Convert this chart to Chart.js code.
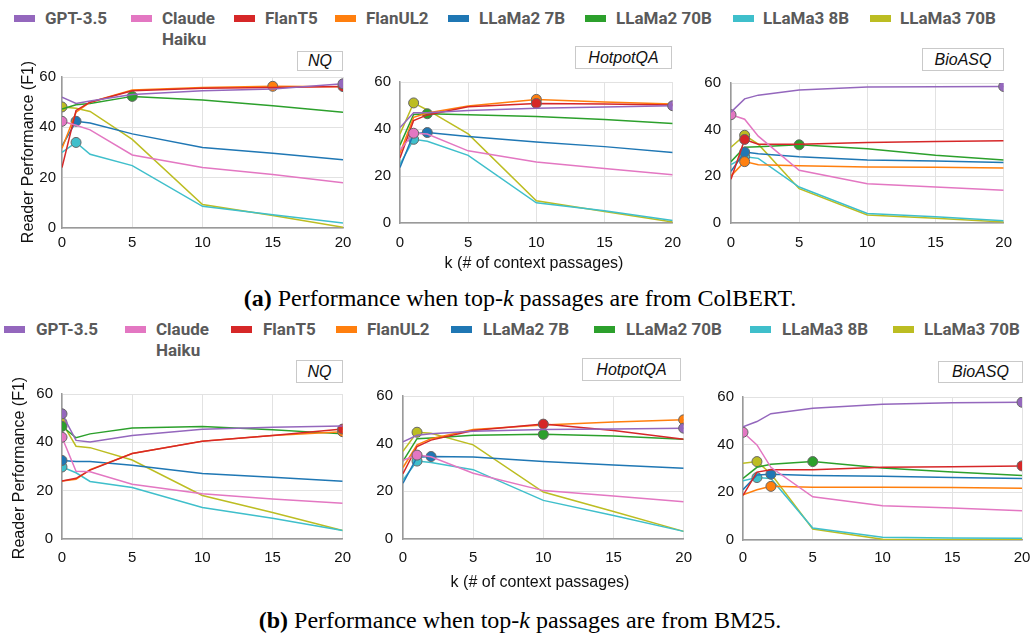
<!DOCTYPE html>
<html>
<head>
<meta charset="utf-8">
<script src="https://cdn.jsdelivr.net/npm/chart.js@4.4.1/dist/chart.umd.min.js"></script>
<style>
  body { margin: 0; background: #fff; }
  #wrap { position: relative; width: 1033px; height: 633px; overflow: hidden; background: #fff; }
  #wrap canvas { position: absolute; }
  .sw { position: absolute; width: 21px; height: 7px; }
  .lt { position: absolute; font-family: Roboto, 'Liberation Sans', sans-serif; font-weight: 700;
        font-size: 17px; line-height: 21px; color: #5a5a5a; white-space: nowrap; }
  .box { position: absolute; border: 1.5px solid #c9c9c9; background: #fff; box-sizing: border-box;
         font-family: 'Liberation Sans', Arial, sans-serif; font-style: italic; font-size: 16px;
         color: #111; display: flex; align-items: center; justify-content: center; }
  .ytitle { position: absolute; font-family: 'Liberation Sans', Arial, sans-serif; font-size: 16px; color: #111;
            white-space: nowrap; transform: translate(-50%, -50%) rotate(-90deg); }
  .xtitle { position: absolute; font-family: 'Liberation Sans', Arial, sans-serif; font-size: 16px; color: #111;
            white-space: nowrap; transform: translate(-50%, -50%); }
  .cap { position: absolute; font-family: 'Liberation Serif', 'Times New Roman', serif; font-size: 24px; color: #000;
         white-space: nowrap; transform: translate(-50%, -50%); }
  .cap b { font-weight: 700; }
  .cap i { font-style: italic; }
</style>
</head>
<body>
<div id="wrap"></div>
<script>
// k values on the x axis
const kValues = [0, 1, 2, 5, 10, 15, 20];
const models = ['GPT-3.5', 'Claude\nHaiku', 'FlanT5', 'FlanUL2', 'LLaMa2 7B', 'LLaMa2 70B', 'LLaMa3 8B', 'LLaMa3 70B'];
const colors = ['#9467bd', '#e377c2', '#d62728', '#ff7f0e', '#1f77b4', '#2ca02c', '#3fbfcb', '#bcbd22'];

// (a) ColBERT retrieval, one row per model
const colbertNQ = [
    [52, 49.5, 50.5, 53, 54.5, 55.2, 57.3],
    [42.4, 40.8, 39, 29, 24, 21.3, 18],
    [24, 46.7, 50, 54.5, 55.5, 55.8, 56.2],
    [31.7, 46, 50, 54.8, 55.8, 56.3, 56.1],
    [32.6, 42.4, 41.7, 37.4, 32, 29.7, 27.1],
    [47.3, 49, 49.5, 52.3, 50.9, 48.6, 46],
    [30, 34, 29.3, 24.8, 8.6, 5.3, 2],
    [48.1, 47.6, 46.3, 35.2, 9.3, 5, 0.3]
];
const colbertHotpot = [
    [40.6, 46.9, 46.9, 47.9, 48.8, 49.4, 49.9],
    [31, 38.2, 37.9, 30.7, 26, 23.2, 20.5],
    [27.7, 43.6, 46, 49.5, 50.9, 50.6, 50.2],
    [29.7, 45, 46.8, 49.8, 52.6, 51.5, 50.6],
    [23.6, 38.0, 38.5, 36.8, 34.5, 32.5, 30],
    [33.1, 46.2, 46.5, 46.1, 45.3, 44, 42.3],
    [25, 35.6, 34.8, 28.8, 8.6, 5.2, 1.1],
    [37.9, 51.1, 48.1, 37.9, 9.5, 4.9, 0.4]
];
const colbertBio = [
    [47.5, 53.2, 54.8, 57, 58.3, 58.4, 58.5],
    [46.4, 44.5, 37.2, 22.6, 16.8, 15.4, 14],
    [18.8, 35.8, 33.8, 33.8, 34.5, 34.9, 35.3],
    [20.2, 26.3, 25, 24.5, 24, 23.9, 23.6],
    [22.2, 30.4, 29.7, 28.4, 27, 26.6, 25.9],
    [26.3, 32.5, 32.7, 33.5, 31.8, 29, 27],
    [25, 28.4, 27.7, 15.4, 4.1, 2.7, 1],
    [32.5, 37.6, 33.8, 14.7, 3.4, 2, 0.4]
];

// (b) BM25 retrieval
const bm25NQ = [
    [51.8, 40.8, 40.1, 42.8, 45.4, 46.2, 46.8],
    [42.1, 28, 27.8, 22.7, 18.7, 16.6, 14.8],
    [24, 25.1, 28.5, 35.4, 40.4, 42.8, 45.5],
    [24, 24.7, 28.7, 35.4, 40.5, 42.8, 44.4],
    [32.5, 32.1, 32.1, 30.5, 27.1, 25.6, 23.9],
    [46.6, 41.9, 43.5, 45.9, 46.5, 45.2, 43.5],
    [29.8, 27.4, 23.8, 21.3, 13, 8.6, 3.5],
    [48.2, 38.4, 37.8, 32.7, 18, 11, 3.5]
];
const bm25Hotpot = [
    [40.8, 43.5, 44.2, 45.2, 45.9, 46.2, 46.5],
    [33, 35.2, 34.5, 27.6, 20.3, 18, 15.6],
    [27.4, 38.8, 41.5, 45.5, 48.2, 45.5, 41.9],
    [30, 39.5, 42.1, 45.9, 47.8, 49.1, 50],
    [23.4, 34.3, 34.6, 34.4, 32.5, 31, 29.7],
    [32.7, 42.1, 42.4, 43.5, 43.9, 43.2, 41.9],
    [24.7, 32.7, 32.1, 29.1, 16.2, 9.9, 3.2],
    [36.8, 44.8, 44.4, 39.5, 19.7, 11.5, 3.2]
];
const bm25Bio = [
    [47.5, 49.7, 53, 55.3, 57, 57.6, 57.8],
    [45.2, 39.9, 30.5, 18.1, 14.4, 13.4, 12.3],
    [18.7, 28.5, 29.5, 29.5, 30.5, 30.7, 31.1],
    [19, 21.1, 22.5, 22.1, 22.1, 22, 21.7],
    [21.1, 27.3, 27.6, 27.1, 26.7, 26.2, 25.8],
    [25.8, 30.5, 31.8, 32.9, 30.2, 28.5, 27.1],
    [24.8, 26.2, 25.8, 5, 1.2, 0.8, 0.7],
    [32.2, 32.9, 27.8, 4.6, 0.3, 0.2, 0.2]
];

const wrap = document.getElementById('wrap');

function addEl(cls, html, style) {
    const el = document.createElement('div');
    el.className = cls;
    el.innerHTML = html;
    Object.assign(el.style, style);
    wrap.appendChild(el);
    return el;
}

// legends (one above each row)
function drawLegend(spots, yMid) {
    models.forEach((m, i) => {
        addEl('sw', '', { left: spots[i][0] + 'px', top: (yMid - 3) + 'px', background: colors[i] });
        addEl('lt', m.replace('\n', '<br>'), { left: spots[i][1] + 'px', top: (yMid - 10) + 'px' });
    });
}
drawLegend([[14, 45], [131, 162], [234, 265], [335, 366], [448, 479], [585, 616], [733, 763], [870, 900]], 18);
drawLegend([[4, 36], [125, 156], [231, 263], [336, 367], [451, 483], [594, 626], [750, 782], [893, 924]], 329);

// panel layout: plot area box, y label gap, x label padding, name box
const panels = [
    { rows: colbertNQ, l: 62, r: 343, t: 74, b: 228, gap: 6, xpad: 6, name: 'NQ', box: [297, 51, 46, 20] },
    { rows: colbertHotpot, l: 400, r: 674, t: 76, b: 223, gap: 9, xpad: 11, name: 'HotpotQA', box: [575, 46, 97, 23] },
    { rows: colbertBio, l: 731, r: 1005, t: 76, b: 223, gap: 10, xpad: 11, name: 'BioASQ', box: [922, 48, 82, 23] },
    { rows: bm25NQ, l: 62, r: 343, t: 388, b: 539, gap: 9, xpad: 10, name: 'NQ', box: [296, 360, 47, 23] },
    { rows: bm25Hotpot, l: 403, r: 684, t: 389, b: 539, gap: 10, xpad: 10, name: 'HotpotQA', box: [582, 358, 99, 23] },
    { rows: bm25Bio, l: 743, r: 1022, t: 391, b: 540, gap: 9, xpad: 9, name: 'BioASQ', box: [938, 361, 85, 22] }
];

const Y_W = 44, X_H = 34, PAD_T = 12, PAD_R = 18;
const tickFont = { family: "'Liberation Sans', Arial, sans-serif", size: 15 };

panels.forEach(p => {
    const canvas = document.createElement('canvas');
    const w = Y_W + (p.r - p.l) + PAD_R;
    const h = PAD_T + (p.b - p.t) + X_H;
    canvas.width = w;
    canvas.height = h;
    canvas.style.left = (p.l - Y_W) + 'px';
    canvas.style.top = (p.t - PAD_T) + 'px';
    canvas.style.width = w + 'px';
    canvas.style.height = h + 'px';
    wrap.appendChild(canvas);

    const datasets = p.rows.map((vals, i) => {
        // marker only on each model's best k
        const best = vals.indexOf(Math.max(...vals));
        return {
            label: models[i],
            data: kValues.map((k, j) => ({ x: k, y: vals[j] })),
            borderColor: colors[i],
            backgroundColor: colors[i],
            borderWidth: 1.5,
            tension: 0,
            pointRadius: vals.map((v, j) => j === best ? 5 : 0),
            pointBackgroundColor: colors[i],
            pointBorderColor: '#666',
            pointBorderWidth: 1
        };
    });

    new Chart(canvas.getContext('2d'), {
        type: 'line',
        data: { datasets },
        options: {
            responsive: false,
            animation: false,
            devicePixelRatio: 1,
            layout: { padding: { top: PAD_T, right: PAD_R, left: 0, bottom: 0 } },
            plugins: { legend: { display: false }, tooltip: { enabled: false } },
            scales: {
                x: {
                    type: 'linear', min: 0, max: 20,
                    ticks: { stepSize: 5, color: '#111', font: tickFont, padding: p.xpad, maxRotation: 0 },
                    grid: { color: '#e2e2e2', drawTicks: false },
                    border: { color: '#9a9a9a', width: 1.5 },
                    afterFit: s => { s.height = X_H; }
                },
                y: {
                    min: 0, max: 60,
                    ticks: { stepSize: 20, color: '#111', font: tickFont, padding: p.gap },
                    grid: { color: '#e2e2e2', drawTicks: false },
                    border: { color: '#9a9a9a', width: 1.5 },
                    afterFit: s => { s.width = Y_W; }
                }
            }
        }
    });

    addEl('box', p.name, { left: p.box[0] + 'px', top: p.box[1] + 'px', width: p.box[2] + 'px', height: p.box[3] + 'px' });
});

// axis titles and captions
addEl('ytitle', 'Reader Performance (F1)', { left: '28px', top: '152px' });
addEl('ytitle', 'Reader Performance (F1)', { left: '19px', top: '468px' });
addEl('xtitle', 'k (# of context passages)', { left: '534px', top: '263px' });
addEl('xtitle', 'k (# of context passages)', { left: '540px', top: '582px' });
addEl('cap', '<b>(a)</b> Performance when top-<i>k</i> passages are from ColBERT.', { left: '520px', top: '298px' });
addEl('cap', '<b>(b)</b> Performance when top-<i>k</i> passages are from BM25.', { left: '520px', top: '620px' });
</script>
</body>
</html>
